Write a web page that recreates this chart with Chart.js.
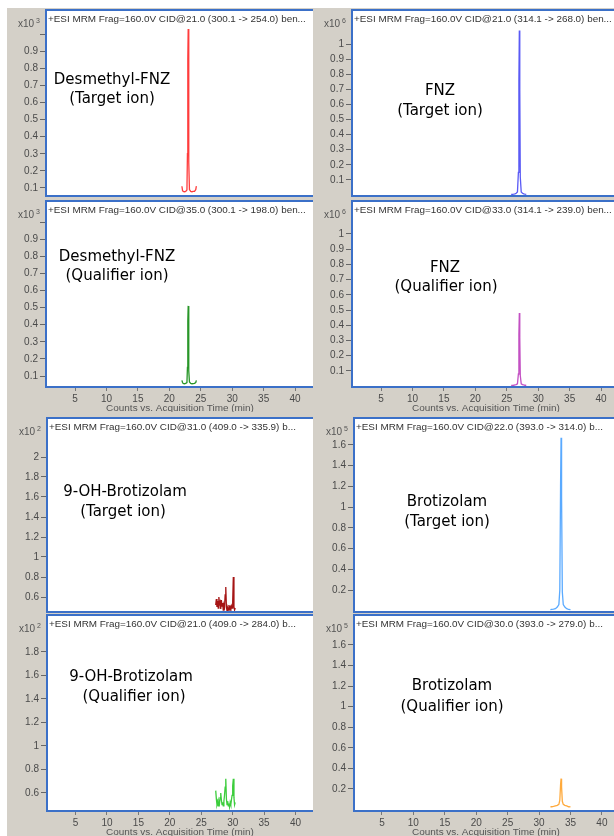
<!DOCTYPE html>
<html><head><meta charset="utf-8">
<script src="https://cdn.jsdelivr.net/npm/chart.js@4.4.1/dist/chart.umd.min.js"></script>
<style>
html,body{margin:0;padding:0;width:614px;height:836px;overflow:hidden;background:#fff;}
#gray{position:absolute;left:7px;top:8px;right:0;bottom:0;background:#d4d0c8;}
.wrap{position:absolute;overflow:hidden;}
canvas{display:block;}
</style></head><body><div id="gray"></div>
<script>
// ---------- DATA ----------
const xTicks = [5, 10, 15, 20, 25, 30, 35, 40];
const xTickLabels = ['5', '10', '15', '20', '25', '30', '35', '40'];

// Desmethyl-FNZ (x10^3)
const desmTime = [22.0, 22.1, 22.2, 22.4, 22.6, 22.8, 22.88, 22.94, 23.0, 23.06, 23.12, 23.2, 23.4, 23.6, 23.8, 24.0, 24.2, 24.3];
const desmTargetCounts = [0.11, 0.085, 0.08, 0.078, 0.08, 0.088, 0.30, 0.85, 1.03, 0.80, 0.25, 0.09, 0.08, 0.078, 0.08, 0.08, 0.09, 0.11];
const desmQualCounts = [0.075, 0.062, 0.057, 0.055, 0.057, 0.062, 0.15, 0.42, 0.51, 0.40, 0.13, 0.065, 0.057, 0.055, 0.056, 0.057, 0.062, 0.075];

// FNZ (x10^6)
const fnzTime = [25.7, 25.9, 26.1, 26.3, 26.5, 26.7, 26.85, 26.93, 27.0, 27.07, 27.15, 27.3, 27.5, 27.7, 27.9, 28.1, 28.2];
const fnzTargetCounts = [0.005, 0.005, 0.006, 0.008, 0.012, 0.02, 0.15, 0.75, 1.09, 0.70, 0.12, 0.02, 0.012, 0.008, 0.006, 0.005, 0.005];
const fnzQualCounts = [0.005, 0.005, 0.006, 0.008, 0.010, 0.015, 0.08, 0.34, 0.48, 0.32, 0.07, 0.015, 0.010, 0.008, 0.006, 0.005, 0.005];

// 9-OH-Brotizolam (x10^2)
const ohTime = [27.3, 27.4, 27.5, 27.6, 27.7, 27.8, 27.9, 28.0, 28.1, 28.2, 28.3, 28.4, 28.5, 28.6, 28.7, 28.8, 28.9, 29.0, 29.1, 29.2, 29.3, 29.4, 29.5, 29.6, 29.7, 29.8, 29.9, 30.0, 30.1, 30.2, 30.3, 30.4];
const ohTargetCounts = [0.52, 0.58, 0.50, 0.56, 0.49, 0.60, 0.53, 0.55, 0.48, 0.57, 0.51, 0.54, 0.47, 0.52, 0.50, 0.62, 0.70, 0.50, 0.46, 0.49, 0.47, 0.52, 0.48, 0.50, 0.47, 0.51, 0.49, 0.55, 0.80, 0.50, 0.47, 0.49];
const ohQualCounts = [0.62, 0.55, 0.50, 0.52, 0.49, 0.53, 0.51, 0.56, 0.60, 0.54, 0.50, 0.52, 0.49, 0.53, 0.58, 0.65, 0.72, 0.55, 0.50, 0.53, 0.49, 0.51, 0.48, 0.52, 0.50, 0.54, 0.58, 0.66, 0.72, 0.56, 0.50, 0.52];

// Brotizolam (x10^5)
const broTime = [31.8, 32.0, 32.3, 32.6, 32.9, 33.15, 33.3, 33.42, 33.5, 33.58, 33.7, 33.85, 34.1, 34.4, 34.7, 35.0];
const broTargetCounts = [0.01, 0.012, 0.015, 0.02, 0.035, 0.06, 0.20, 1.20, 1.67, 1.10, 0.18, 0.06, 0.035, 0.02, 0.012, 0.01];
const broQualCounts = [0.025, 0.027, 0.03, 0.035, 0.04, 0.05, 0.09, 0.24, 0.30, 0.22, 0.08, 0.05, 0.04, 0.035, 0.027, 0.025];

// Y tick values and labels
const yTicksDesm = [0.1, 0.2, 0.3, 0.4, 0.5, 0.6, 0.7, 0.8, 0.9, 1.0];
const yLabelsDesm = ['0.1', '0.2', '0.3', '0.4', '0.5', '0.6', '0.7', '0.8', '0.9', ''];
const yTicksFnz = [0.1, 0.2, 0.3, 0.4, 0.5, 0.6, 0.7, 0.8, 0.9, 1.0];
const yLabelsFnz = ['0.1', '0.2', '0.3', '0.4', '0.5', '0.6', '0.7', '0.8', '0.9', '1'];
const yTicksOhTarget = [0.6, 0.8, 1.0, 1.2, 1.4, 1.6, 1.8, 2.0];
const yLabelsOhTarget = ['0.6', '0.8', '1', '1.2', '1.4', '1.6', '1.8', '2'];
const yTicksOhQual = [0.6, 0.8, 1.0, 1.2, 1.4, 1.6, 1.8];
const yLabelsOhQual = ['0.6', '0.8', '1', '1.2', '1.4', '1.6', '1.8'];
const yTicksBro = [0.2, 0.4, 0.6, 0.8, 1.0, 1.2, 1.4, 1.6];
const yLabelsBro = ['0.2', '0.4', '0.6', '0.8', '1', '1.2', '1.4', '1.6'];

const headers = [
  '+ESI MRM Frag=160.0V CID@21.0 (300.1 -> 254.0) ben...',
  '+ESI MRM Frag=160.0V CID@21.0 (314.1 -> 268.0) ben...',
  '+ESI MRM Frag=160.0V CID@35.0 (300.1 -> 198.0) ben...',
  '+ESI MRM Frag=160.0V CID@33.0 (314.1 -> 239.0) ben...',
  '+ESI MRM Frag=160.0V CID@31.0 (409.0 -> 335.9) b...',
  '+ESI MRM Frag=160.0V CID@22.0 (393.0 -> 314.0) b...',
  '+ESI MRM Frag=160.0V CID@21.0 (409.0 -> 284.0) b...',
  '+ESI MRM Frag=160.0V CID@30.0 (393.0 -> 279.0) b...'
];
const xAxisTitle = 'Counts vs. Acquisition Time (min)';

// ---------- LAYOUT / STYLE ----------
const BORDER = '#3b70c8';
const YW = 38;          // y-axis area width
const XH = 24;          // x-axis area height
const PLOT_W = 310;     // plot width inside canvas
const PX_PER_MIN = 6.286;

const panels = [
  {L:45, T:9,   B:197, clipR:313, xMin:0.22, yMin:0.047, yMax:1.147, showX:false, time:desmTime, counts:desmTargetCounts, color:'rgb(255,60,60)', yT:yTicksDesm, yL:yLabelsDesm, h:headers[0], exp:'3', name:['Desmethyl-FNZ','(Target ion)'], nx:[112,112], ny:[80,99]},
  {L:351, T:9,  B:197, clipR:614, xMin:0.22, yMin:-0.013, yMax:1.232, showX:false, time:fnzTime, counts:fnzTargetCounts, color:'rgb(90,90,245)', yT:yTicksFnz, yL:yLabelsFnz, h:headers[1], exp:'6', name:['FNZ','(Target ion)'], nx:[440,440], ny:[91,111]},
  {L:45, T:200, B:388, clipR:313, xMin:0.22, yMin:0.03, yMax:1.129, showX:true, time:desmTime, counts:desmQualCounts, color:'rgb(40,150,40)', yT:yTicksDesm, yL:yLabelsDesm, h:headers[2], exp:'3', name:['Desmethyl-FNZ','(Qualifier ion)'], nx:[117,117], ny:[257,276], tx:180},
  {L:351, T:200, B:388, clipR:614, xMin:0.22, yMin:-0.012, yMax:1.223, showX:true, time:fnzTime, counts:fnzQualCounts, color:'rgb(195,80,195)', yT:yTicksFnz, yL:yLabelsFnz, h:headers[3], exp:'6', name:['FNZ','(Qualifier ion)'], nx:[445,446], ny:[268,287], tx:486},
  {L:46, T:417, B:613, clipR:313, xMin:0.3, yMin:0.44, yMax:2.4, showX:false, time:ohTime, counts:ohTargetCounts, color:'rgb(165,20,20)', yT:yTicksOhTarget, yL:yLabelsOhTarget, h:headers[4], exp:'2', name:['9-OH-Brotizolam','(Target ion)'], nx:[125,123], ny:[492,512]},
  {L:353, T:417, B:613, clipR:614, xMin:0.4, yMin:-0.022, yMax:1.87, showX:false, time:broTime, counts:broTargetCounts, color:'rgb(90,170,255)', yT:yTicksBro, yL:yLabelsBro, h:headers[5], exp:'5', name:['Brotizolam','(Target ion)'], nx:[447,447], ny:[502,522]},
  {L:46, T:614, B:812, clipR:313, xMin:0.3, yMin:0.438, yMax:2.123, showX:true, time:ohTime, counts:ohQualCounts, color:'rgb(60,205,60)', yT:yTicksOhQual, yL:yLabelsOhQual, h:headers[6], exp:'2', name:['9-OH-Brotizolam','(Qualifier ion)'], nx:[131,134], ny:[677,697], tx:180},
  {L:353, T:614, B:812, clipR:614, xMin:0.4, yMin:-0.024, yMax:1.90, showX:true, time:broTime, counts:broQualCounts, color:'rgb(255,170,60)', yT:yTicksBro, yL:yLabelsBro, h:headers[7], exp:'5', name:['Brotizolam','(Qualifier ion)'], nx:[452,452], ny:[686,707], tx:486}
];

const mctx = document.createElement('canvas').getContext('2d');
function fitSize(text, family, target) {
  mctx.font = '10px ' + family;
  return 10 * target / mctx.measureText(text).width;
}
const HEADER_FONT = '"Liberation Sans", Arial, sans-serif';
const headerSize = fitSize(headers[0], HEADER_FONT, 258);
const titleSize = fitSize(xAxisTitle, HEADER_FONT, 148);

const decor = {
  id: 'decor',
  beforeDatasetsDraw(chart) {
    const ctx = chart.ctx, a = chart.chartArea;
    ctx.save();
    ctx.fillStyle = '#ffffff';
    ctx.fillRect(a.left, a.top, a.right - a.left, a.bottom - a.top);
    ctx.restore();
  },
  afterDraw(chart, args, o) {
    const p = o.panel;
    const ctx = chart.ctx, a = chart.chartArea;
    const ox = p.L - YW, oy = p.T;
    ctx.save();
    ctx.strokeStyle = BORDER; ctx.lineWidth = 2;
    ctx.strokeRect(a.left + 1, a.top + 1, a.right - a.left - 2, a.bottom - a.top - 2);
    ctx.fillStyle = '#333';
    ctx.font = headerSize.toFixed(2) + 'px ' + HEADER_FONT;
    ctx.textBaseline = 'middle'; ctx.textAlign = 'left';
    ctx.fillText(p.h, a.left + 3, a.top + 10);
    ctx.fillStyle = '#555';
    ctx.textAlign = 'right';
    ctx.font = '7px ' + HEADER_FONT;
    const ex = a.left - 5;
    ctx.fillText(p.exp, ex, a.top + 12);
    const ew = ctx.measureText(p.exp).width;
    ctx.font = '10px ' + HEADER_FONT;
    ctx.fillText('x10', ex - ew - 2, a.top + 15);
    ctx.fillStyle = '#000';
    ctx.textAlign = 'center';
    ctx.font = '15px "DejaVu Sans", sans-serif';
    for (let i = 0; i < p.name.length; i++) {
      ctx.fillText(p.name[i], p.nx[i] - ox, p.ny[i] - oy);
    }
    if (p.showX) {
      ctx.fillStyle = '#555';
      ctx.font = titleSize.toFixed(2) + 'px ' + HEADER_FONT;
      ctx.fillText(xAxisTitle, p.tx - ox, a.bottom + 20);
    }
    ctx.restore();
  }
};

panels.forEach(p => {
  const wrap = document.createElement('div');
  wrap.className = 'wrap';
  const left = p.L - YW;
  const H = (p.B - p.T) + (p.showX ? XH : 0);
  const W = YW + PLOT_W;
  wrap.style.left = left + 'px';
  wrap.style.top = p.T + 'px';
  wrap.style.width = (p.clipR - left) + 'px';
  wrap.style.height = H + 'px';
  const cv = document.createElement('canvas');
  cv.width = W; cv.height = H;
  cv.style.width = W + 'px'; cv.style.height = H + 'px';
  wrap.appendChild(cv);
  document.body.appendChild(wrap);
  const pts = p.time.map((t, i) => ({x: t, y: p.counts[i]}));
  new Chart(cv, {
    type: 'line',
    data: {datasets: [{data: pts, borderColor: p.color, borderWidth: 1.3, pointRadius: 0, tension: 0, fill: false}]},
    options: {
      responsive: false, animation: false, devicePixelRatio: 1,
      layout: {padding: 0, autoPadding: false},
      plugins: {legend: {display: false}, tooltip: {enabled: false}, decor: {panel: p}},
      scales: {
        x: {
          type: 'linear', min: p.xMin, max: p.xMin + PLOT_W / PX_PER_MIN,
          display: p.showX,
          grid: {drawOnChartArea: false, drawTicks: true, tickLength: 3, color: '#777'},
          border: {display: false},
          ticks: {autoSkip: false, maxRotation: 0, padding: 2, color: '#4a4a4a', font: {family: HEADER_FONT, size: 10},
                  callback: (v) => { const i = xTicks.indexOf(v); return i >= 0 ? xTickLabels[i] : ''; }},
          afterBuildTicks: s => { s.ticks = xTicks.map(v => ({value: v})); },
          afterFit: s => { s.height = p.showX ? XH : 0; s.paddingLeft = 0; s.paddingRight = 0; }
        },
        y: {
          type: 'linear', min: p.yMin, max: p.yMax,
          grid: {drawOnChartArea: false, drawTicks: true, tickLength: 5, color: '#666'},
          border: {display: false},
          ticks: {autoSkip: false, padding: 2, color: '#4a4a4a', font: {family: HEADER_FONT, size: 10},
                  callback: (v) => { const i = p.yT.findIndex(t => Math.abs(t - v) < 1e-9); return i >= 0 ? p.yL[i] : ''; }},
          afterBuildTicks: s => { s.ticks = p.yT.map(v => ({value: v})); },
          afterFit: s => { s.width = YW; s.paddingTop = 0; s.paddingBottom = 0; }
        }
      }
    },
    plugins: [decor]
  });
});
</script>
</body></html>
